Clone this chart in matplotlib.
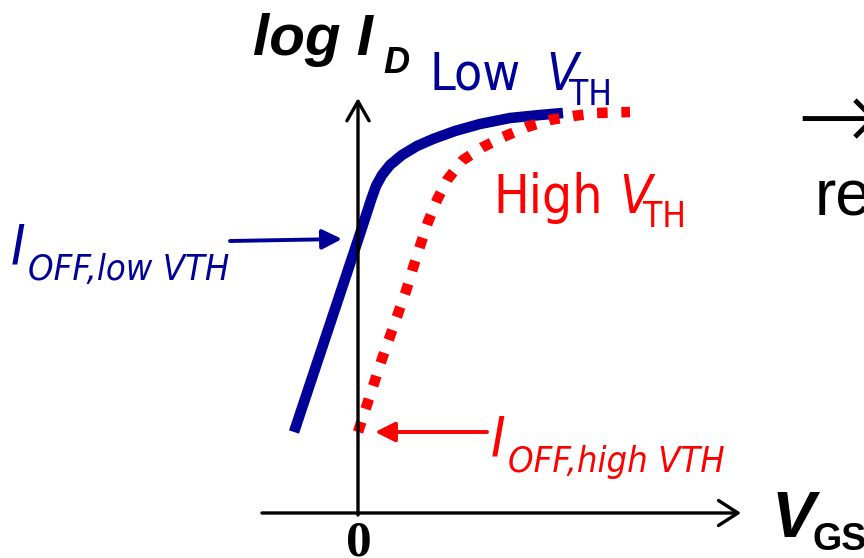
import matplotlib
matplotlib.use("Agg")
import matplotlib.pyplot as plt
from matplotlib import font_manager

# ---------------- data (V_GS, log I_D), origin at the axis crossing ----------------
low_vgs = [-64, 0, 13, 18, 24, 32, 44, 59, 75, 97, 122, 152, 182, 205]
low_logid = [83, 275, 315, 329, 340, 350, 360, 369, 376, 384, 391, 397, 400, 402]

high_vgs = [0, 24, 48, 55, 62, 70, 79, 89, 105, 125, 145, 169, 192, 215, 239, 272]
high_logid = [83, 156, 224, 247, 269, 293, 315, 335, 355, 368, 378, 388, 395, 399, 402, 403]

ioff_low = 275    # where the low-VTH curve crosses V_GS = 0
ioff_high = 83    # start of the high-VTH curve at V_GS = 0

NAVY = "#000099"
RED = "#ff0000"

# slide uses Arial Narrow; look for something narrow, else squeeze Liberation Sans
NARROW, STRETCH, SHRINK = "Liberation Sans", "normal", 0.85
cands = [f for f in font_manager.fontManager.ttflist
         if "Narrow" in f.name or "Condensed" in f.name
         or str(f.stretch) in ("condensed", "semi-condensed", "extra-condensed")]
cands.sort(key=lambda f: (0 if "Liberation" in f.name else 1 if "Arial" in f.name
                          else 2 if "Sans" in f.name else 3))
if cands:
    NARROW, STRETCH = cands[0].name, cands[0].stretch
    SHRINK = 1.0 if "Narrow" in NARROW else 0.93


def px(x, y):
    # picture pixel -> data coords
    return x - 358, 515 - y


fig = plt.figure(figsize=(8.64, 5.58), dpi=100)
ax = fig.add_axes([0, 0, 1, 1])
ax.set_xlim(-358, 506)
ax.set_ylim(-43, 515)
ax.axis("off")

# axes arrows
ax.annotate("", xy=px(358, 98), xytext=px(358, 515),
            arrowprops=dict(arrowstyle="->,head_length=0.7,head_width=0.4",
                            mutation_scale=20, lw=2.4, color="k",
                            shrinkA=0, shrinkB=0))
ax.annotate("", xy=px(741, 513), xytext=px(262, 513),
            arrowprops=dict(arrowstyle="->,head_length=0.7,head_width=0.45",
                            mutation_scale=20, lw=2.4, color="k",
                            shrinkA=0, shrinkB=0))

# curves
ax.plot(low_vgs, low_logid, color=NAVY, lw=7.6, solid_capstyle="butt",
        solid_joinstyle="round")
ax.plot(high_vgs, high_logid, color=RED, lw=7.6, dashes=(1.0, 1.3),
        dash_capstyle="butt")

# I_OFF arrows
ax.annotate("", xy=(-16, ioff_low + 1), xytext=px(230, 241),
            arrowprops=dict(arrowstyle="-|>,head_length=0.6,head_width=0.3",
                            mutation_scale=20, lw=2.8, color=NAVY,
                            shrinkA=0, shrinkB=0))
ax.annotate("", xy=(17, ioff_high), xytext=px(487, 432),
            arrowprops=dict(arrowstyle="-|>,head_length=0.6,head_width=0.3",
                            mutation_scale=20, lw=2.8, color=RED,
                            shrinkA=0, shrinkB=0))


def txt(x, y, s, size, **kw):
    ax.text(*px(x, y), s, fontsize=size, ha=kw.pop("ha", "left"),
            va=kw.pop("va", "baseline"), **kw)


def ntxt(x, y, s, size, **kw):
    txt(x, y, s, size * SHRINK, family=NARROW, stretch=STRETCH, **kw)


# y label
txt(253, 55, "log I", 42, family="Liberation Sans", weight="bold", style="italic")
txt(383, 73, "D", 26, family="Liberation Sans", weight="bold", style="italic")

# Low V_TH
ntxt(430, 90, "Low", 40, color=NAVY)
ntxt(546, 90, "V", 40, style="italic", color=NAVY)
ntxt(569, 105, "TH", 27, color=NAVY)

# High V_TH
ntxt(493, 213, "High", 41, color=RED)
ntxt(619, 213, "V", 41, style="italic", color=RED)
ntxt(643, 227, "TH", 27, color=RED)

# I_OFF labels
ntxt(11, 263, "I", 43, style="italic", color=NAVY)
ntxt(28, 280, "OFF,low VTH", 28, style="italic", color=NAVY)
ntxt(491, 455, "I", 43, style="italic", color=RED)
ntxt(508, 472, "OFF,high VTH", 28, style="italic", color=RED)

# x label and origin
txt(772, 537, "V", 47, family="Liberation Sans", weight="bold", style="italic")
txt(813, 550, "GS", 27, family="Liberation Sans", weight="bold")
txt(359, 555, "0", 37, family="Liberation Serif", weight="bold", ha="center")

# slide text cut off on the right
txt(880, 150, "\u2192", 72, family="DejaVu Sans", weight="light", ha="right")
txt(815, 215, "re", 46, family="Liberation Sans")

fig.savefig("out.png", dpi=100)
